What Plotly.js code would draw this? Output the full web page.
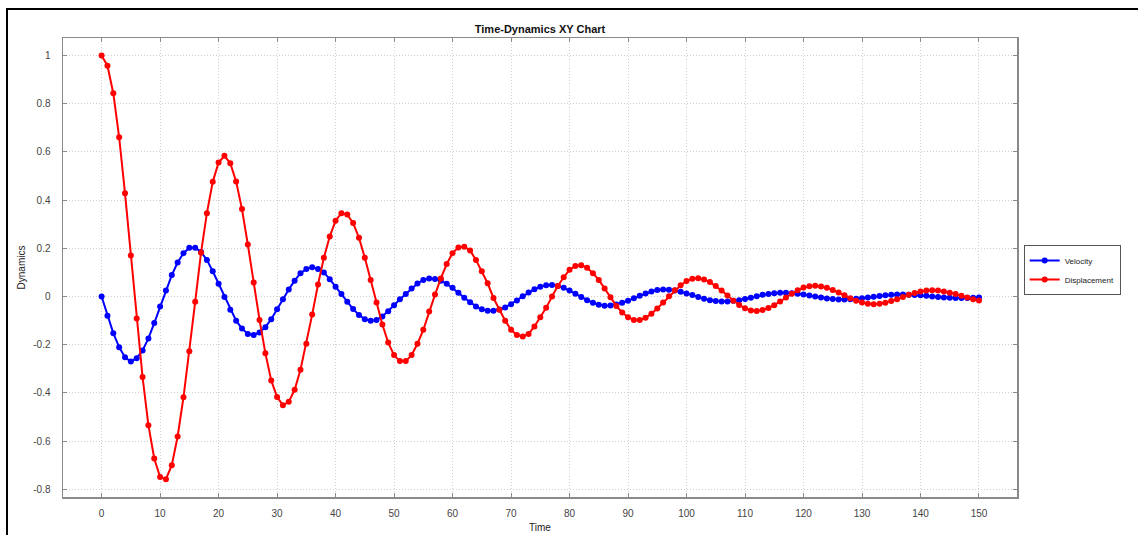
<!DOCTYPE html>
<html>
<head>
<meta charset="utf-8">
<script src="https://cdn.plot.ly/plotly-3.0.1.min.js"></script>
<style>
  html, body { margin: 0; padding: 0; background: #fff; }
  #wrap { position: relative; width: 1138px; height: 535px; overflow: hidden; }
  #chart { position: absolute; left: 0; top: 0; width: 1138px; height: 535px; }
  #frame { position: absolute; left: 6px; top: 8px; width: 1200px; height: 600px;
           border-left: 2px solid #000; border-top: 2px solid #000; pointer-events: none; }
</style>
</head>
<body>
<div id="wrap">
  <div id="chart"></div>
  <div id="frame"></div>
</div>
<script>
const time = [0,1,2,3,4,5,6,7,8,9,10,11,12,13,14,15,16,17,18,19,20,21,22,23,24,25,26,27,28,29,30,
  31,32,33,34,35,36,37,38,39,40,41,42,43,44,45,46,47,48,49,50,51,52,53,54,55,56,57,58,59,60,
  61,62,63,64,65,66,67,68,69,70,71,72,73,74,75,76,77,78,79,80,81,82,83,84,85,86,87,88,89,90,
  91,92,93,94,95,96,97,98,99,100,101,102,103,104,105,106,107,108,109,110,111,112,113,114,115,116,117,118,119,120,
  121,122,123,124,125,126,127,128,129,130,131,132,133,134,135,136,137,138,139,140,141,142,143,144,145,146,147,148,149,150];

const velocity = [0,-0.080,-0.152,-0.210,-0.252,-0.270,-0.256,-0.224,-0.174,-0.110,
  -0.041,0.025,0.089,0.141,0.180,0.202,0.202,0.185,0.152,0.105,
  0.053,-0.002,-0.055,-0.100,-0.133,-0.155,-0.160,-0.149,-0.127,-0.094,
  -0.053,-0.011,0.029,0.066,0.097,0.114,0.122,0.114,0.100,0.072,
  0.041,0.011,-0.022,-0.052,-0.077,-0.094,-0.100,-0.097,-0.083,-0.061,
  -0.036,-0.011,0.011,0.033,0.054,0.069,0.075,0.073,0.066,0.053,
  0.036,0.016,-0.005,-0.024,-0.041,-0.053,-0.059,-0.059,-0.054,-0.045,
  -0.032,-0.016,0.001,0.017,0.030,0.041,0.047,0.048,0.044,0.036,
  0.025,0.012,-0.002,-0.015,-0.026,-0.034,-0.038,-0.037,-0.033,-0.026,
  -0.017,-0.007,0.003,0.013,0.021,0.027,0.029,0.028,0.025,0.020,
  0.013,0.006,-0.002,-0.009,-0.015,-0.019,-0.021,-0.021,-0.018,-0.015,
  -0.010,-0.005,0.001,0.007,0.011,0.014,0.016,0.016,0.014,0.012,
  0.008,0.004,0.000,-0.004,-0.008,-0.010,-0.012,-0.012,-0.011,-0.009,
  -0.007,-0.004,-0.001,0.002,0.005,0.007,0.008,0.008,0.007,0.006,
  0.005,0.003,0.000,-0.002,-0.004,-0.005,-0.006,-0.006,-0.006,-0.005,
  -0.004];

const displacement = [1.000,0.958,0.844,0.661,0.429,0.170,-0.091,-0.334,-0.534,-0.672,
  -0.749,-0.758,-0.700,-0.581,-0.418,-0.227,-0.022,0.182,0.346,0.476,
  0.556,0.584,0.553,0.477,0.363,0.216,0.058,-0.097,-0.235,-0.348,
  -0.417,-0.451,-0.437,-0.387,-0.304,-0.196,-0.075,0.050,0.161,0.249,
  0.315,0.346,0.340,0.305,0.244,0.161,0.069,-0.025,-0.116,-0.191,
  -0.243,-0.268,-0.268,-0.243,-0.196,-0.138,-0.062,0.008,0.075,0.135,
  0.180,0.204,0.207,0.191,0.152,0.105,0.055,-0.006,-0.055,-0.100,
  -0.138,-0.160,-0.166,-0.155,-0.124,-0.086,-0.047,0.000,0.044,0.080,
  0.111,0.127,0.130,0.119,0.097,0.069,0.033,-0.003,-0.039,-0.066,
  -0.086,-0.097,-0.097,-0.088,-0.071,-0.050,-0.025,0.001,0.026,0.047,
  0.064,0.074,0.076,0.071,0.060,0.044,0.025,0.004,-0.017,-0.035,
  -0.049,-0.058,-0.060,-0.056,-0.048,-0.036,-0.021,-0.004,0.012,0.026,
  0.037,0.043,0.045,0.042,0.036,0.027,0.017,0.005,-0.007,-0.017,
  -0.025,-0.030,-0.032,-0.030,-0.026,-0.019,-0.011,-0.002,0.007,0.015,
  0.021,0.025,0.026,0.025,0.021,0.016,0.010,0.003,-0.004,-0.011,
  -0.016];

const xTickVals = [0,10,20,30,40,50,60,70,80,90,100,110,120,130,140,150];
const xTickText = ["0","10","20","30","40","50","60","70","80","90","100","110","120","130","140","150"];
const yTickVals = [-0.8,-0.6,-0.4,-0.2,0,0.2,0.4,0.6,0.8,1];
const yTickText = ["-0.8","-0.6","-0.4","-0.2","0","0.2","0.4","0.6","0.8","1"];

const FONT = "Liberation Sans, Arial, sans-serif";

const traces = [
  { x: time, y: velocity, name: "Velocity", type: "scatter", mode: "lines+markers",
    line: { color: "#0000ff", width: 2 }, marker: { color: "#0000ff", size: 6 } },
  { x: time, y: displacement, name: "Displacement", type: "scatter", mode: "lines+markers",
    line: { color: "#ff0000", width: 2 }, marker: { color: "#ff0000", size: 6 } }
];

const axisCommon = {
  showline: true, linecolor: "#8a8a8a", linewidth: 1.5, mirror: "ticks",
  ticks: "inside", ticklen: 4, tickcolor: "#8a8a8a", tickwidth: 1,
  showgrid: true, gridcolor: "#cfcfcf", griddash: "1px,2px", gridwidth: 1,
  zeroline: false, tickfont: { family: FONT, size: 10, color: "#444" }
};

const layout = {
  width: 1138, height: 535,
  margin: { l: 63, r: 121, t: 38, b: 38 },
  paper_bgcolor: "#ffffff", plot_bgcolor: "#ffffff",
  title: { text: "<b>Time-Dynamics XY Chart</b>", font: { family: FONT, size: 11, color: "#111" },
           x: 0.5, xref: "paper", xanchor: "center", y: 1, yref: "paper", yanchor: "bottom", pad: { b: 5 } },
  xaxis: Object.assign({}, axisCommon, {
    range: [-6.6, 156.5], tickvals: xTickVals, ticktext: xTickText, ticklabelstandoff: 6,
    title: { text: "Time", font: { family: FONT, size: 10, color: "#222" }, standoff: 6 }
  }),
  yaxis: Object.assign({}, axisCommon, {
    range: [-0.832, 1.073], tickvals: yTickVals, ticktext: yTickText, ticklabelstandoff: 9,
    title: { text: "Dynamics", font: { family: FONT, size: 10, color: "#222" }, standoff: 6 }
  }),
  showlegend: true,
  legend: { x: 1.007, xanchor: "left", y: 0.549, yanchor: "top",
            bordercolor: "#555", borderwidth: 1, bgcolor: "#fff", tracegroupgap: 0,
            font: { family: FONT, size: 8, color: "#222" } }
};

Plotly.newPlot("chart", traces, layout, { displayModeBar: false, staticPlot: true });
</script>
</body>
</html>
